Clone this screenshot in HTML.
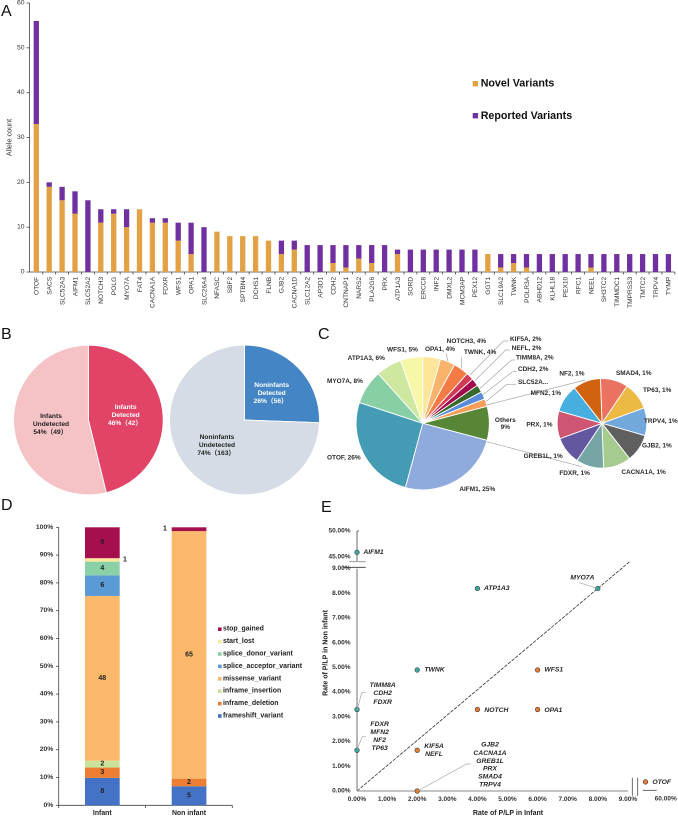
<!DOCTYPE html>
<html lang="en">
<head>
<meta charset="utf-8">
<title>Variant figure panels A to E</title>
<style>
html,body{margin:0;padding:0;background:#fff;width:678px;height:817px;overflow:hidden}
svg{display:block;font-family:"Liberation Sans","Noto Sans CJK SC",sans-serif;filter:blur(.3px)}
.pl{font-size:16px;fill:#111}
.b{font-weight:bold}
.c{dominant-baseline:central}
.m{text-anchor:middle}
.pie{font-size:19.4px;font-weight:bold;fill:#2a2a2a;dominant-baseline:central}
.pb{font-size:20px;font-weight:bold;dominant-baseline:central}
.se{font-size:20.4px;font-weight:bold;font-style:italic;fill:#262626;dominant-baseline:central}
.lead{fill:none;stroke:#a6a6a6;stroke-width:.7}
.axd{stroke:#444;stroke-width:.8;fill:none}
</style>
</head>
<body>
<svg id="fig" xmlns="http://www.w3.org/2000/svg" width="678" height="817" viewBox="0 0 678 817">
  <rect width="678" height="817" fill="#fff"/>
  <g id="panelA"></g>
  <g id="panelB"></g>
  <g id="panelC"></g>
  <g id="panelD"></g>
  <g id="panelE"></g>

  <text class="pl" x="1" y="16">A</text>
  <text class="pl" x="1" y="339">B</text>
  <text class="pl" x="318" y="339">C</text>
  <text class="pl" x="1" y="510">D</text>
  <text class="pl" x="321" y="512">E</text>

  <text transform="translate(11.5 137.5) rotate(-90)" text-anchor="middle" font-size="7.2" fill="#333">Allele count</text>
  <rect x="472.7" y="81" width="5.4" height="5.4" fill="#E2A145"/>
  <text x="480.7" y="83.6" class="b c" font-size="10.7" fill="#111">Novel Variants</text>
  <rect x="472.7" y="113" width="5.4" height="5.4" fill="#7030A0"/>
  <text x="480.7" y="116" class="b c" font-size="10.7" fill="#111">Reported Variants</text>

  <g transform="translate(0 310) scale(.33333)">
    <text class="pb m" fill="#222" x="153" y="320">Infants</text>
    <text class="pb m" fill="#222" x="153" y="343">Undetected</text>
    <text class="pb" fill="#222" x="100" y="368">54%（49）</text>
    <text class="pb m" fill="#fff" x="377" y="292">Infants</text>
    <text class="pb m" fill="#fff" x="377" y="316">Detected</text>
    <text class="pb" fill="#fff" x="324" y="340">46%（42）</text>
    <text class="pb m" fill="#222" x="651" y="383">Noninfants</text>
    <text class="pb m" fill="#222" x="651" y="407">Undetected</text>
    <text class="pb" fill="#222" x="592" y="431">74%（163）</text>
    <text class="pb m" fill="#fff" x="815" y="226">Noninfants</text>
    <text class="pb m" fill="#fff" x="815" y="250">Detected</text>
    <text class="pb" fill="#fff" x="761" y="274">26%（56）</text>
  </g>

  <g transform="translate(280 310) scale(.33333)">
    <polyline class="lead" style="stroke-width:2.1" points="503,153 499,130"/>
    <polyline class="lead" style="stroke-width:2.1" points="545,176 545,142"/>
    <polyline class="lead" style="stroke-width:2.1" points="570,195 670,93 685,93"/>
    <polyline class="lead" style="stroke-width:2.1" points="585,212 677,120 690,120"/>
    <polyline class="lead" style="stroke-width:2.1" points="600,235 695,150 705,150"/>
    <polyline class="lead" style="stroke-width:2.1" points="608,255 698,185 710,185"/>
    <polyline class="lead" style="stroke-width:2.1" points="618,275 680,223 708,223"/>
    <line class="lead" style="stroke-width:2.1" x1="620" y1="285" x2="915" y2="210"/>
    <line class="lead" style="stroke-width:2.1" x1="620" y1="395" x2="905" y2="470"/>
    <text class="pie" x="500" y="95">NOTCH3, 4%</text>
    <text class="pie" x="552" y="127">TWNK, 4%</text>
    <text class="pie" x="690" y="88">KIF5A, 2%</text>
    <text class="pie" x="695" y="116">NEFL, 2%</text>
    <text class="pie" x="708" y="144">TIMM8A, 2%</text>
    <text class="pie" x="714" y="179">CDH2, 2%</text>
    <text class="pie" x="714" y="217">SLC52A...</text>
    <text class="pie" x="752" y="250">MFN2, 1%</text>
    <text class="pie" x="838" y="192">NF2, 1%</text>
    <text class="pie" x="1008" y="190">SMAD4, 1%</text>
    <text class="pie" x="1089" y="241">TP63, 1%</text>
    <text class="pie" x="1092" y="335">TRPV4, 1%</text>
    <text class="pie" x="1086" y="408">GJB2, 1%</text>
    <text class="pie" x="1024" y="488">CACNA1A, 1%</text>
    <text class="pie" x="838" y="491">FDXR, 1%</text>
    <text class="pie" x="731" y="439">GREB1L, 1%</text>
    <text class="pie" x="739" y="345">PRX, 1%</text>
    <text class="pie m" x="676" y="331">Others</text>
    <text class="pie m" x="676" y="352">9%</text>
    <text class="pie" x="538" y="538">AIFM1, 25%</text>
    <text class="pie" x="141" y="444">OTOF, 26%</text>
    <text class="pie" x="141" y="215">MYO7A, 8%</text>
    <text class="pie" x="203" y="146">ATP1A3, 6%</text>
    <text class="pie" x="321" y="120">WFS1, 5%</text>
    <text class="pie" x="435" y="118">OPA1, 4%</text>
  </g>

  <g transform="translate(300 510) scale(.33333)">
    <polyline class="lead" style="stroke-width:2.1" points="838,218 885,233"/>
    <polyline class="lead" style="stroke-width:2.1" points="172,598 185,548 198,548"/>
    <polyline class="lead" style="stroke-width:2.1" points="171,718 187,680 198,680"/>
    <polyline class="lead" style="stroke-width:2.1" points="353,843 500,762 512,762"/>
    <text class="se" x="190" y="128">AIFM1</text>
    <text class="se" x="552" y="236">ATP1A3</text>
    <text class="se" x="811" y="204">MYO7A</text>
    <text class="se" x="373" y="480">TWNK</text>
    <text class="se" x="733" y="480">WFS1</text>
    <text class="se" x="553" y="601">NOTCH</text>
    <text class="se" x="733" y="601">OPA1</text>
    <text class="se" x="1057" y="817">OTOF</text>
    <text class="se m" x="248" y="527">TIMM8A</text>
    <text class="se m" x="248" y="551">CDH2</text>
    <text class="se m" x="248" y="577">FDXR</text>
    <text class="se m" x="239" y="644">FDXR</text>
    <text class="se m" x="239" y="668">MFN2</text>
    <text class="se m" x="239" y="691">NF2</text>
    <text class="se m" x="239" y="715">TP63</text>
    <text class="se m" x="402" y="709">KIF5A</text>
    <text class="se m" x="402" y="733">NEFL</text>
    <text class="se m" x="570" y="705">GJB2</text>
    <text class="se m" x="570" y="731">CACNA1A</text>
    <text class="se m" x="570" y="754">GREB1L</text>
    <text class="se m" x="570" y="777">PRX</text>
    <text class="se m" x="570" y="801">SMAD4</text>
    <text class="se m" x="570" y="825">TRPV4</text>
  </g>
  <text x="508" y="813.3" class="b c m" font-size="7" fill="#222">Rate of P/LP in Infant</text>
  <text transform="translate(327.5 653) rotate(-90)" class="b m" font-size="7" fill="#222">Rate of P/LP in Non infant</text>
</svg>
<script>
// ---- Panel A data ----
const geneCategories = ["OTOF","SACS","SLC52A3","AIFM1","SLC52A2","NOTCH3","POLG","MYO7A","FAT4","CACNA1A","FDXR","WFS1","OPA1","SLC26A4","NFASC","SBF2","SPTBN4","DCHS1","FLNB","GJB2","CACNA1D","SLC12A2","AP3D1","CDH2","CNTNAP1","NARS2","PLA2G6","PRX","ATP1A3","SORD","ERCC8","INF2","DMXL2","MCM3AP","PEX12","GGT1","SLC19A2","TWNK","POLR3A","ABHD12","KLHL18","PEX10","RFC1","NEEL","SH3TC2","TIMMDC1","TMPRSS3","TMTC2","TRPV4","TYMP"];
const novelCounts = [33,19,16,13,0,11,13,10,14,11,11,7,4,0,9,8,8,8,7,4,5,0,0,2,1,3,2,0,4,0,0,0,0,0,0,4,1,2,1,0,0,0,0,1,0,0,0,0,0,0];
const reportedCounts = [23,1,3,5,16,3,1,4,0,1,1,4,7,10,0,0,0,0,0,3,2,6,6,4,5,3,4,6,1,5,5,5,5,5,5,0,3,2,3,4,4,4,4,3,4,4,4,4,4,4];
const alleleTicks = [0,10,20,30,40,50,60];

// ---- Panel B data ----
const infantPieValues = [42,49];
const infantPieLabels = ["detected","undetected"];
const noninfantPieValues = [56,163];
const noninfantPieLabels = ["detected","undetected"];

// ---- Panel C data ----
const mainPieLabels = ["OPA1","NOTCH3","TWNK","KIF5A","NEFL","TIMM8A","CDH2","SLC52A","Others","AIFM1","OTOF","MYO7A","ATP1A3","WFS1"];
const mainPieValues = [4.3,3.6,3.7,1.85,1.85,1.85,1.85,1.85,8.2,25,25.8,8.3,6.2,5.4];
const subPieLabels = ["SMAD4","TP63","TRPV4","GJB2","CACNA1A","FDXR","GREB1L","PRX","MFN2","NF2"];
const subPieValues = [1,1,1,1,1,1,1,1,1,1];

// ---- Panel D data ----
const variantTypes = ["frameshift_variant","inframe_deletion","inframe_insertion","missense_variant","splice_acceptor_variant","splice_donor_variant","start_lost","stop_gained"];
const cohortNames = ["Infant","Non infant"];
const infantVariantCounts = [8,3,2,48,6,4,1,9];
const nonInfantVariantCounts = [5,2,0,65,0,0,0,1];
const percentTicks = [0,10,20,30,40,50,60,70,80,90,100];

// ---- Panel E data ----
const scatterGenes = ["AIFM1","ATP1A3","MYO7A","TWNK","WFS1","NOTCH","OPA1","TIMM8A","FDXR","KIF5A","GJB2","OTOF"];
const infantRates = [0,4,8,2,6,4,6,0,0,2,2,56];
const nonInfantRates = [45.9,8.2,8.2,4.9,4.9,3.3,3.3,3.3,1.65,1.65,0,0.37];
const rateTicks = [0,1,2,3,4,5,6,7,8,9];
const upperRateTicks = [45,50];
const farInfantTicks = [60];
const trendSlope = [1.025];
const trendEndX = [9.07];

const NS = "http://www.w3.org/2000/svg";
function add(parent, tag, props, content) {
  const el = document.createElementNS(NS, tag);
  for (const k in props) el.setAttribute(k, props[k]);
  if (content !== undefined) el.textContent = content;
  parent.appendChild(el);
  return el;
}
function tag(el, name) {
  
  
  return el;
}
function slug(s) { return String(s).toLowerCase().replace(/[^a-z0-9]+/g, '-'); }

// Panel A axes
const gA = document.getElementById('panelA');
const xA = i => 36.3 + i * 12.9;
const yA = v => 272 - v * 4.483;
tag(add(gA, 'line', {x1:29.5, y1:yA(60), x2:29.5, y2:272, class:'axd'}), 'a-y-axis');
tag(add(gA, 'line', {x1:29.5, y1:272, x2:675, y2:272, class:'axd'}), 'a-x-axis');
alleleTicks.forEach(t => {
  tag(add(gA, 'line', {x1:26.5, y1:yA(t), x2:29.5, y2:yA(t), class:'axd'}), 'a-y-tick-' + t);
  tag(add(gA, 'text', {x:24.5, y:yA(t), 'text-anchor':'end', class:'c', 'font-size':6.8, fill:'#333'}, t), 'a-y-tick-label-' + t);
});
geneCategories.forEach((g, i) => {
  const cx = xA(i), w = 5.3;
  tag(add(gA, 'line', {x1:cx + 6.45, y1:272, x2:cx + 6.45, y2:274.5, class:'axd'}), 'a-x-tick-' + slug(g));
  if (novelCounts[i] > 0) {
    tag(add(gA, 'rect', {x:cx - w/2, y:yA(novelCounts[i]), width:w, height:272 - yA(novelCounts[i]), fill:'#E2A145'}), 'bar-novel-' + slug(g));
  }
  if (reportedCounts[i] > 0) {
    const top = yA(novelCounts[i] + reportedCounts[i]);
    tag(add(gA, 'rect', {x:cx - w/2, y:top, width:w, height:yA(novelCounts[i]) - top, fill:'#7030A0'}), 'bar-reported-' + slug(g));
  }
  tag(add(gA, 'text', {transform:'translate(' + (cx + 2.3) + ' 276.8) rotate(-90)', 'text-anchor':'end', 'font-size':6.6, fill:'#333'}, g), 'gene-label-' + slug(g));
});

// Pies
function polar(cx, cy, r, deg) {
  const a = (deg - 90) * Math.PI / 180;
  return [cx + r * Math.cos(a), cy + r * Math.sin(a)];
}
function pie(parent, cx, cy, r, values, colors, labels, start, prefix, sw) {
  const total = values.reduce((a, b) => a + b, 0);
  let ang = start;
  values.forEach((v, i) => {
    const sweep = v / total * 360;
    const p0 = polar(cx, cy, r, ang), p1 = polar(cx, cy, r, ang + sweep);
    const d = 'M' + cx + ' ' + cy + 'L' + p0[0] + ' ' + p0[1] + 'A' + r + ' ' + r + ' 0 ' + (sweep > 180 ? 1 : 0) + ' 1 ' + p1[0] + ' ' + p1[1] + 'Z';
    tag(add(parent, 'path', {d:d, fill:colors[i], stroke:'#fff', 'stroke-width':sw}), prefix + '-slice-' + slug(labels[i]));
    ang += sweep;
  });
}
const gB = document.getElementById('panelB');
pie(gB, 88.4, 420, 74.8, infantPieValues, ['#E14467','#F5C3C5'], infantPieLabels, 0, 'infant-pie', 0.9);
pie(gB, 244.5, 420, 75, noninfantPieValues, ['#4485C5','#D6DCE5'], noninfantPieLabels, 0, 'noninfant-pie', 0.9);

const gC = document.getElementById('panelC');
pie(gC, 422.7, 423.3, 66.6, mainPieValues,
  ['#FDE599','#F9B36A','#F47C44','#D33A54','#A3064D','#38692B','#5B8CD9','#F79D5A','#568636','#8FAADC','#439BB4','#88CFA5','#CFE8A0','#F7F7A8'],
  mainPieLabels, 0, 'main-pie', 0.9);
pie(gC, 602, 423.3, 44.8, subPieValues,
  ['#EB7260','#EDB945','#72A8DC','#5F5F5F','#A5CB8E','#76A5A5','#63589F','#CF5672','#47AEE0','#D1620F'],
  subPieLabels, -2, 'sub-pie', 0.9);

// Panel D
const gD = document.getElementById('panelD');
const yD = p => 805.3 - p * 2.78;
const dColors = ['#4472C4','#ED7D31','#C9E49A','#FCB96B','#5B9BD5','#8AD1A8','#FCE89A','#A50F4D'];
tag(add(gD, 'line', {x1:58.7, y1:yD(100), x2:58.7, y2:805.3, class:'axd'}), 'd-y-axis');
tag(add(gD, 'line', {x1:58.7, y1:805.3, x2:232.3, y2:805.3, class:'axd'}), 'd-x-axis');
percentTicks.forEach(t => {
  tag(add(gD, 'line', {x1:56, y1:yD(t), x2:58.7, y2:yD(t), class:'axd'}), 'd-y-tick-' + t);
  tag(add(gD, 'text', {x:53.3, y:yD(t), 'text-anchor':'end', class:'b c', 'font-size':6.8, fill:'#333'}, t + '%'), 'd-y-tick-label-' + t);
});
[58.7, 145.5, 232.3].forEach((x, i) => {
  tag(add(gD, 'line', {x1:x, y1:805.3, x2:x, y2:808, class:'axd'}), 'd-x-tick-' + i);
});
const dBarX = [85, 171.7];
[infantVariantCounts, nonInfantVariantCounts].forEach((counts, b) => {
  const total = counts.reduce((a, c) => a + c, 0);
  let cum = 0;
  counts.forEach((c, i) => {
    if (c === 0) return;
    const y0 = yD(cum / total * 100), y1 = yD((cum + c) / total * 100);
    tag(add(gD, 'rect', {x:dBarX[b], y:y1, width:34.7, height:y0 - y1, fill:dColors[i]}), slug(cohortNames[b]) + '-bar-' + slug(variantTypes[i]));
    const thin = (y0 - y1) < 5;
    const lx = thin ? (b === 0 ? 125 : 165) : dBarX[b] + 17.3;
    tag(add(gD, 'text', {x:lx, y:(y0 + y1) / 2, class:'b c m', 'font-size':7, fill:'#222'}, c), slug(cohortNames[b]) + '-value-' + slug(variantTypes[i]));
    cum += c;
  });
  tag(add(gD, 'text', {x:dBarX[b] + 17.3, y:813.3, class:'b c m', 'font-size':6.9, fill:'#222'}, cohortNames[b]), 'd-category-' + slug(cohortNames[b]));
});
variantTypes.forEach((v, i) => {
  const ly = 716 - i * 12.4;
  tag(add(gD, 'rect', {x:218, y:ly - 1.8, width:3.6, height:3.6, fill:dColors[i]}), 'd-legend-swatch-' + slug(v));
  tag(add(gD, 'text', {x:223, y:ly, class:'b c', 'font-size':6.95, fill:'#222'}, v), 'd-legend-' + slug(v));
});

// Panel E
const gE = document.getElementById('panelE');
const xE = v => v <= 9.2 ? 357 + v * 30.1 : 656.7 - (60 - v) * 2.8;
const yE = v => v <= 9.5 ? 791 - v * 24.7 : 557 - (v - 45) * 5.2;
tag(add(gE, 'line', {x1:xE(0), y1:791, x2:xE(trendEndX[0]), y2:yE(trendEndX[0] * trendSlope[0]), stroke:'#333', 'stroke-width':.8, 'stroke-dasharray':'3.5 1.2'}), 'e-trend-line');
tag(add(gE, 'line', {x1:357, y1:yE(9), x2:357, y2:791, stroke:'#9a9a9a', 'stroke-width':1.4}), 'e-y-axis');
tag(add(gE, 'line', {x1:357, y1:791, x2:628, y2:791, stroke:'#8a8a8a', 'stroke-width':.9}), 'e-x-axis');
tag(add(gE, 'line', {x1:357, y1:yE(50), x2:357, y2:561, class:'axd'}), 'e-y-axis-upper');
tag(add(gE, 'line', {x1:357, y1:yE(50), x2:359, y2:yE(50), class:'axd'}), 'e-y-axis-upper-cap');
tag(add(gE, 'line', {x1:349.3, y1:561.7, x2:365.7, y2:561.7, stroke:'#8a8a8a', 'stroke-width':.9}), 'e-y-break-upper');
tag(add(gE, 'line', {x1:343, y1:567.3, x2:365.7, y2:567.3, stroke:'#333', 'stroke-width':.8}), 'e-y-break-lower');
tag(add(gE, 'line', {x1:632.3, y1:777.7, x2:632.3, y2:795.7, stroke:'#444', 'stroke-width':.8}), 'e-x-break-left');
tag(add(gE, 'line', {x1:637.7, y1:777.7, x2:637.7, y2:795.7, stroke:'#444', 'stroke-width':.8}), 'e-x-break-right');
tag(add(gE, 'line', {x1:642.7, y1:790.3, x2:656.7, y2:790.3, class:'axd'}), 'e-x-axis-far');
rateTicks.forEach(t => {
  tag(add(gE, 'text', {x:350.5, y:yE(t), 'text-anchor':'end', class:'b c', 'font-size':6.5, fill:'#333'}, t.toFixed(2) + '%'), 'e-y-tick-label-' + t);
  tag(add(gE, 'text', {x:xE(t), y:799.5, class:'b c m', 'font-size':6.5, fill:'#333'}, t.toFixed(2) + '%'), 'e-x-tick-label-' + t);
});
upperRateTicks.forEach(t => {
  tag(add(gE, 'text', {x:350.5, y:yE(t), 'text-anchor':'end', class:'b c', 'font-size':6.5, fill:'#333'}, t.toFixed(2) + '%'), 'e-y-tick-label-' + t);
});
farInfantTicks.forEach(t => {
  tag(add(gE, 'text', {x:665.7, y:799, class:'b c m', 'font-size':6.5, fill:'#333'}, t.toFixed(2) + '%'), 'e-x-tick-label-' + t);
});
scatterGenes.forEach((g, i) => {
  const isOrange = infantRates[i] > nonInfantRates[i];
  tag(add(gE, 'circle', {cx:xE(infantRates[i]), cy:yE(nonInfantRates[i]), r:2.3, fill:isOrange ? '#E8792F' : '#3AA99F', stroke:'#3a3a3a', 'stroke-width':.6}), 'point-' + slug(g));
});
</script>
</body>
</html>
